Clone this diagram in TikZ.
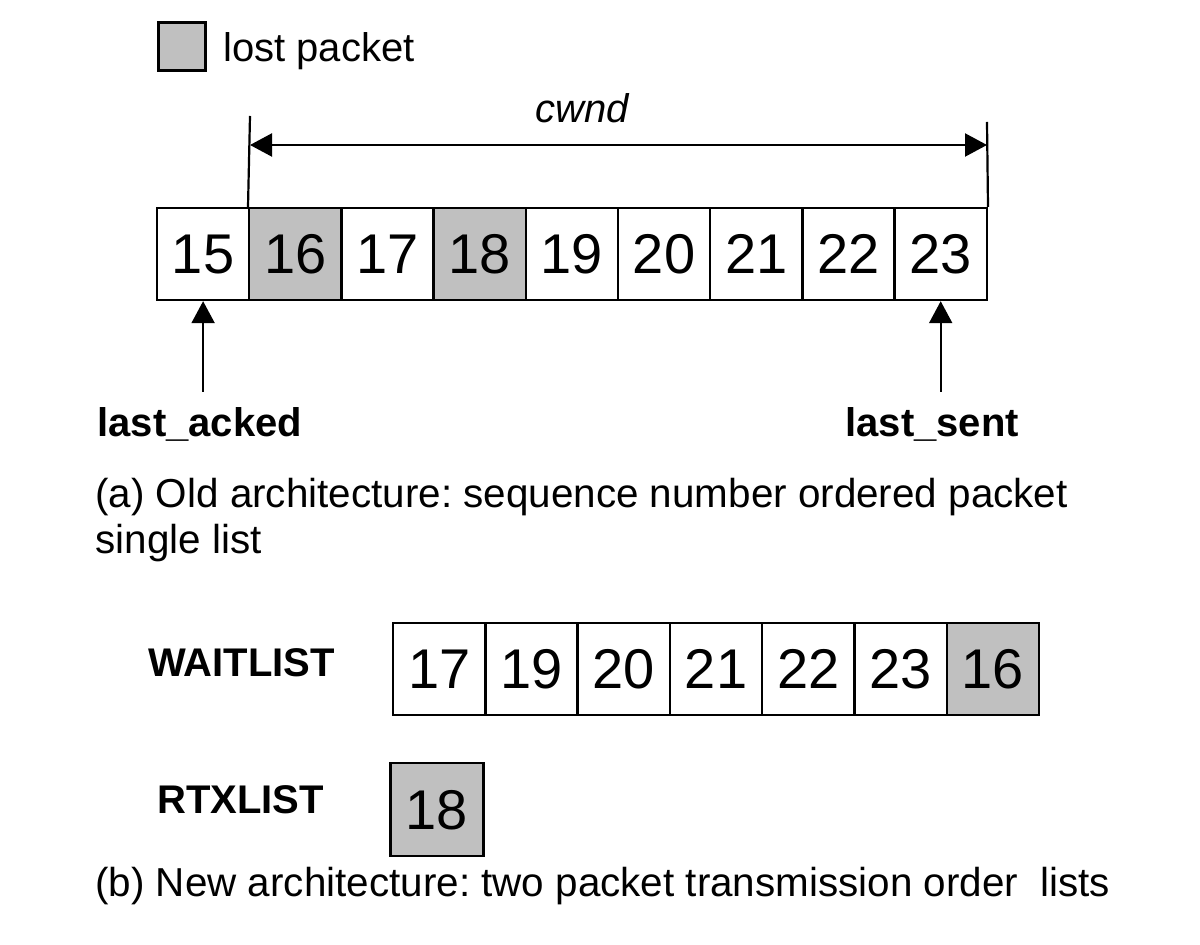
\documentclass[tikz,border=0pt]{standalone}
\usepackage{fontspec}
\setmainfont{Liberation Sans}
\frenchspacing
\usetikzlibrary{arrows.meta}
\definecolor{lostgray}{HTML}{C0C0C0}
\begin{document}
\begin{tikzpicture}[x=0.5pt,y=-0.5pt,
  pkt/.style={draw,line width=1.2pt,minimum width=46.1pt,minimum height=46pt,inner sep=0pt,
    text height=20pt,text depth=0pt,font=\fontsize{28}{30}\selectfont,anchor=center},
  lost/.style={pkt,fill=lostgray},
  lbl/.style={font=\fontsize{20}{23}\selectfont,anchor=base west,inner sep=0pt},
  captext/.style={lbl,font=\fontsize{20.2}{23}\selectfont},
  blbl/.style={lbl,font=\fontsize{20}{23}\selectfont\bfseries},
  tip/.style={-{Triangle[length=11pt,width=11.5pt]}},
  conn/.style={line width=1.1pt}]
\useasboundingbox (0,0) rectangle (1200,945);
% legend
\node[draw,line width=1.5pt,fill=lostgray,minimum width=23.5pt,minimum height=24pt,inner sep=0pt] (leg) at (181.5,47) {};
\node[lbl] (legt) at (223,62) {lost packet};
% top row
\node[pkt]  (t15) at ({203.1+92.2*0},254) {15};
\node[lost] (t16) at ({203.1+92.2*1},254) {16};
\node[pkt]  (t17) at ({203.1+92.2*2},254) {17};
\node[lost] (t18) at ({203.1+92.2*3},254) {18};
\node[pkt]  (t19) at ({203.1+92.2*4},254) {19};
\node[pkt]  (t20) at ({203.1+92.2*5},254) {20};
\node[pkt]  (t21) at ({203.1+92.2*6},254) {21};
\node[pkt]  (t22) at ({203.1+92.2*7},254) {22};
\node[pkt]  (t23) at ({203.1+92.2*8},254) {23};
% cwnd
\coordinate (barL) at (250,116);
\coordinate (barR) at (987,122);
\draw[conn] (barL) -- (t16.north west);
\draw[conn] (barR) -- (t23.north east);
\coordinate (cwL) at (250,145);
\coordinate (cwR) at (987,145);
\draw[conn,{Triangle[length=11pt,width=11.5pt]}-{Triangle[length=11pt,width=11.5pt]}] (cwL) -- (cwR);
\node[lbl,anchor=base,font=\fontsize{20}{23}\selectfont\itshape] (cw) at (582,123) {cwnd};
% pointers
\coordinate (la) at (203.1,392);
\coordinate (ls) at (940.7,392);
\draw[conn,tip] (la) -- (t15.south);
\draw[conn,tip] (ls) -- (t23.south);
\node[blbl] (lat) at (97,437) {last\_acked};
\node[blbl] (lst) at (845,437) {last\_sent};
% caption a
\node[captext] (capa1) at (95,508) {(a) Old architecture: sequence number ordered packet};
\node[captext] (capa2) at (95,554) {single list};
% waitlist
\node[blbl] (wl) at (148,677) {WAITLIST};
\node[pkt,minimum width=46.15pt]  (w17) at ({439.15+92.3*0},669) {17};
\node[pkt,minimum width=46.15pt]  (w19) at ({439.15+92.3*1},669) {19};
\node[pkt,minimum width=46.15pt]  (w20) at ({439.15+92.3*2},669) {20};
\node[pkt,minimum width=46.15pt]  (w21) at ({439.15+92.3*3},669) {21};
\node[pkt,minimum width=46.15pt]  (w22) at ({439.15+92.3*4},669) {22};
\node[pkt,minimum width=46.15pt]  (w23) at ({439.15+92.3*5},669) {23};
\node[lost,minimum width=46.15pt] (w16) at ({439.15+92.3*6},669) {16};
% rtxlist
\node[blbl] (rl) at (157,814) {RTXLIST};
\node[lost,minimum width=46.5pt,minimum height=46.5pt] (r18) at (437,809.5) {18};
% caption b
\node[captext] (capb) at (95,897) {(b) New architecture: two packet transmission order\ \ lists};
\end{tikzpicture}
\end{document}
